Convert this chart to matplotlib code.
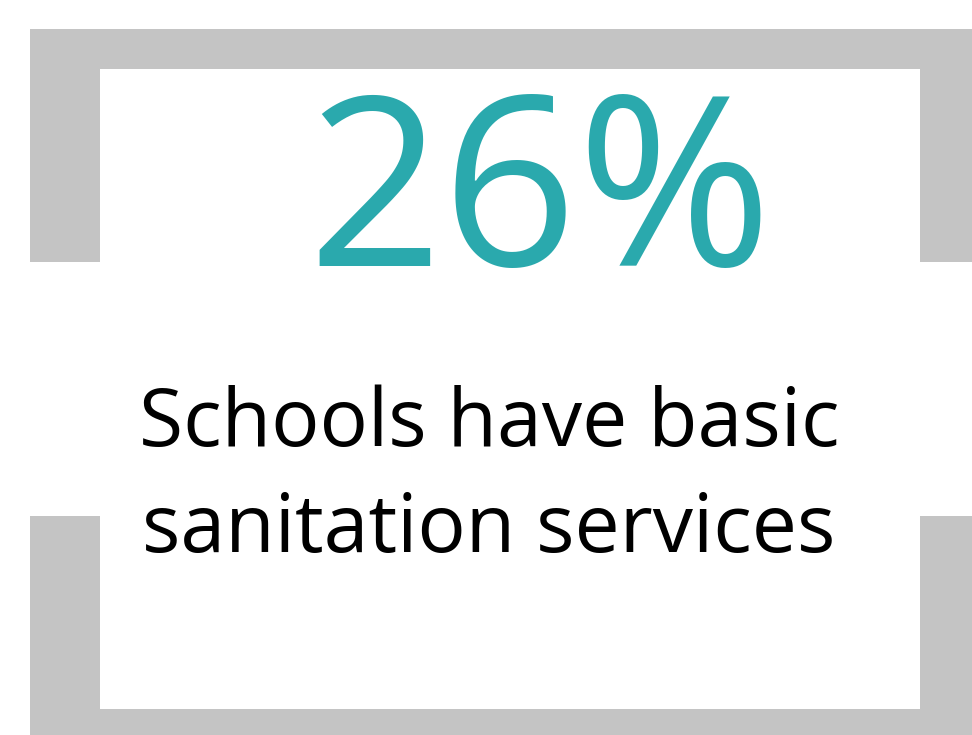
import matplotlib
matplotlib.use("Agg")
import matplotlib.pyplot as plt
from matplotlib.patches import Rectangle

percent_value = 26
label_lines = ["Schools have basic", "sanitation services"]

W, H = 972, 735
GRAY = "#c4c4c4"
TEAL = "#2aa9ad"

fig = plt.figure(figsize=(W / 100, H / 100), dpi=100)
ax = fig.add_axes([0, 0, 1, 1])
ax.set_xlim(0, W)
ax.set_ylim(H, 0)
ax.axis("off")

# frame pieces
pieces = [
    (30, 29, 942, 40),     # top band
    (30, 29, 70, 233),     # top-left vertical
    (920, 29, 52, 233),    # top-right vertical
    (30, 516, 70, 219),    # bottom-left vertical
    (920, 516, 52, 219),   # bottom-right vertical
    (30, 709, 942, 26),    # bottom band
]
for x, y, w, h in pieces:
    ax.add_patch(Rectangle((x, y), w, h, facecolor=GRAY, edgecolor="none"))

ax.text(540, 266, f"{percent_value}%", color=TEAL, fontsize=170,
        family="Open Sans", ha="center", va="baseline")
ax.text(489, 446, label_lines[0], color="black", fontsize=58,
        family="Open Sans", ha="center", va="baseline")
ax.text(489, 552, label_lines[1], color="black", fontsize=58,
        family="Open Sans", ha="center", va="baseline")

fig.savefig("out.png", dpi=100)
